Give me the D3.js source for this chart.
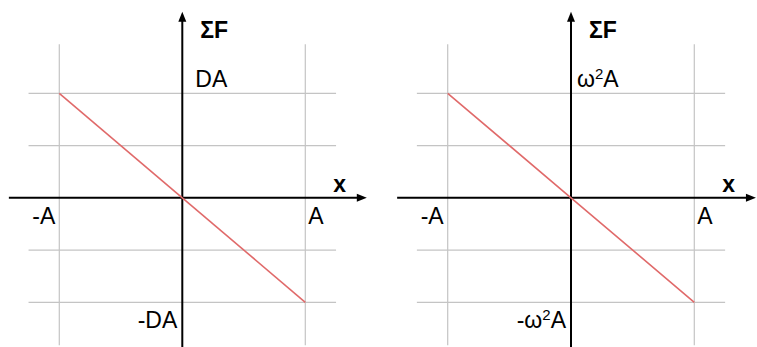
<!DOCTYPE html>
<html>
<head>
<meta charset="utf-8">
<script src="https://cdn.jsdelivr.net/npm/d3@7"></script>
<style>
  html, body { margin: 0; padding: 0; background: #fff; }
  svg { display: block; }
  text { font-family: "Liberation Sans", Arial, sans-serif; fill: #000; }
</style>
</head>
<body>
<svg id="chart" width="757" height="347"></svg>
<script>
// Restoring force vs displacement: ΣF = -k·x, in units of the amplitude A
const panelNames = ["damped", "omega"];
const xValues = [-1, 0, 1];
const forceValues = [1, 0, -1];
const xGrid = [-1, 1];
const yGrid = [-1, -0.5, 0.5, 1];
const xTickLabels = ["-A", "A"];
const yTopLabels = ["DA", "ω²A"];
const yBottomLabels = ["-DA", "-ω²A"];
const xAxisTitle = "x";
const yAxisTitle = "ΣF";

const svg = d3.select("#chart");

// Each panel: pixel range for x ∈ [-1, 1] and y ∈ [1, -1]
const panelLayout = [
  { xr: [59.3, 305.3], yr: [93.3, 302.3], topDx: 13 },
  { xr: [447.7, 694.3], yr: [93.3, 302.3], topDx: 6 }
];

// Write a label, turning "²" into a raised "2" tspan
function richText(sel, str) {
  str.split(/(²)/).filter(s => s.length).forEach(part => {
    if (part === "²") {
      sel.append("tspan").text("2")
        .attr("font-size", 15).attr("dy", -8);
    } else {
      const t = sel.append("tspan").text(part);
      if (sel.selectAll("tspan").size() > 1) t.attr("dy", 8);
    }
  });
  return sel;
}

panelNames.forEach((name, i) => {
  const L = panelLayout[i];
  const x = d3.scaleLinear().domain([-1, 1]).range(L.xr);
  const y = d3.scaleLinear().domain([1, -1]).range(L.yr);
  const g = svg.append("g").attr("class", "panel-" + name);

  // grid
  g.selectAll("line.vgrid").data(xGrid).join("line")
    .attr("class", "vgrid")
    .attr("x1", d => x(d)).attr("x2", d => x(d))
    .attr("y1", y(1.47)).attr("y2", y(-1.41))
    .attr("stroke", "#c4c4c4").attr("stroke-width", 1.2);
  g.selectAll("line.hgrid").data(yGrid).join("line")
    .attr("class", "hgrid")
    .attr("x1", x(-1.25)).attr("x2", x(1.25))
    .attr("y1", d => y(d)).attr("y2", d => y(d))
    .attr("stroke", "#c4c4c4").attr("stroke-width", 1.2);

  // axes with arrowheads
  const x0 = x(0), y0 = y(0);
  const xStart = x(-1.41), xEnd = x(1.5);
  const yTop = y(1.78), yBot = y(-1.44);
  g.append("line")
    .attr("x1", xStart).attr("x2", xEnd - 6)
    .attr("y1", y0).attr("y2", y0)
    .attr("stroke", "#000").attr("stroke-width", 2);
  g.append("path")
    .attr("d", `M${xEnd},${y0} L${xEnd - 10},${y0 - 4} L${xEnd - 10},${y0 + 4} Z`)
    .attr("fill", "#000");
  g.append("line")
    .attr("x1", x0).attr("x2", x0)
    .attr("y1", yTop + 6).attr("y2", yBot)
    .attr("stroke", "#000").attr("stroke-width", 2);
  g.append("path")
    .attr("d", `M${x0},${yTop} L${x0 - 4},${yTop + 10} L${x0 + 4},${yTop + 10} Z`)
    .attr("fill", "#000");

  // force line
  const line = d3.line().x(d => x(d[0])).y(d => y(d[1]));
  g.append("path")
    .datum(d3.zip(xValues, forceValues))
    .attr("d", line)
    .attr("fill", "none")
    .attr("stroke", "#e06a6a")
    .attr("stroke-width", 1.6);

  // labels
  g.append("text").text(yAxisTitle)
    .attr("x", x0 + 18).attr("y", 38)
    .attr("font-size", 23).attr("font-weight", "bold");
  g.append("text").text(xAxisTitle)
    .attr("x", x(1) + 28).attr("y", y0 - 6)
    .attr("font-size", 23).attr("font-weight", "bold");
  richText(g.append("text")
    .attr("x", x0 + L.topDx).attr("y", y(1) - 6)
    .attr("font-size", 23), yTopLabels[i]);
  richText(g.append("text")
    .attr("x", x0 - 5).attr("y", y(-1) + 26)
    .attr("text-anchor", "end")
    .attr("font-size", 23), yBottomLabels[i]);
  g.append("text").text(xTickLabels[0])
    .attr("x", x(-1) - 4).attr("y", y0 + 26)
    .attr("text-anchor", "end")
    .attr("font-size", 23);
  g.append("text").text(xTickLabels[1])
    .attr("x", x(1) + 3).attr("y", y0 + 26)
    .attr("font-size", 23);
});
</script>
</body>
</html>
